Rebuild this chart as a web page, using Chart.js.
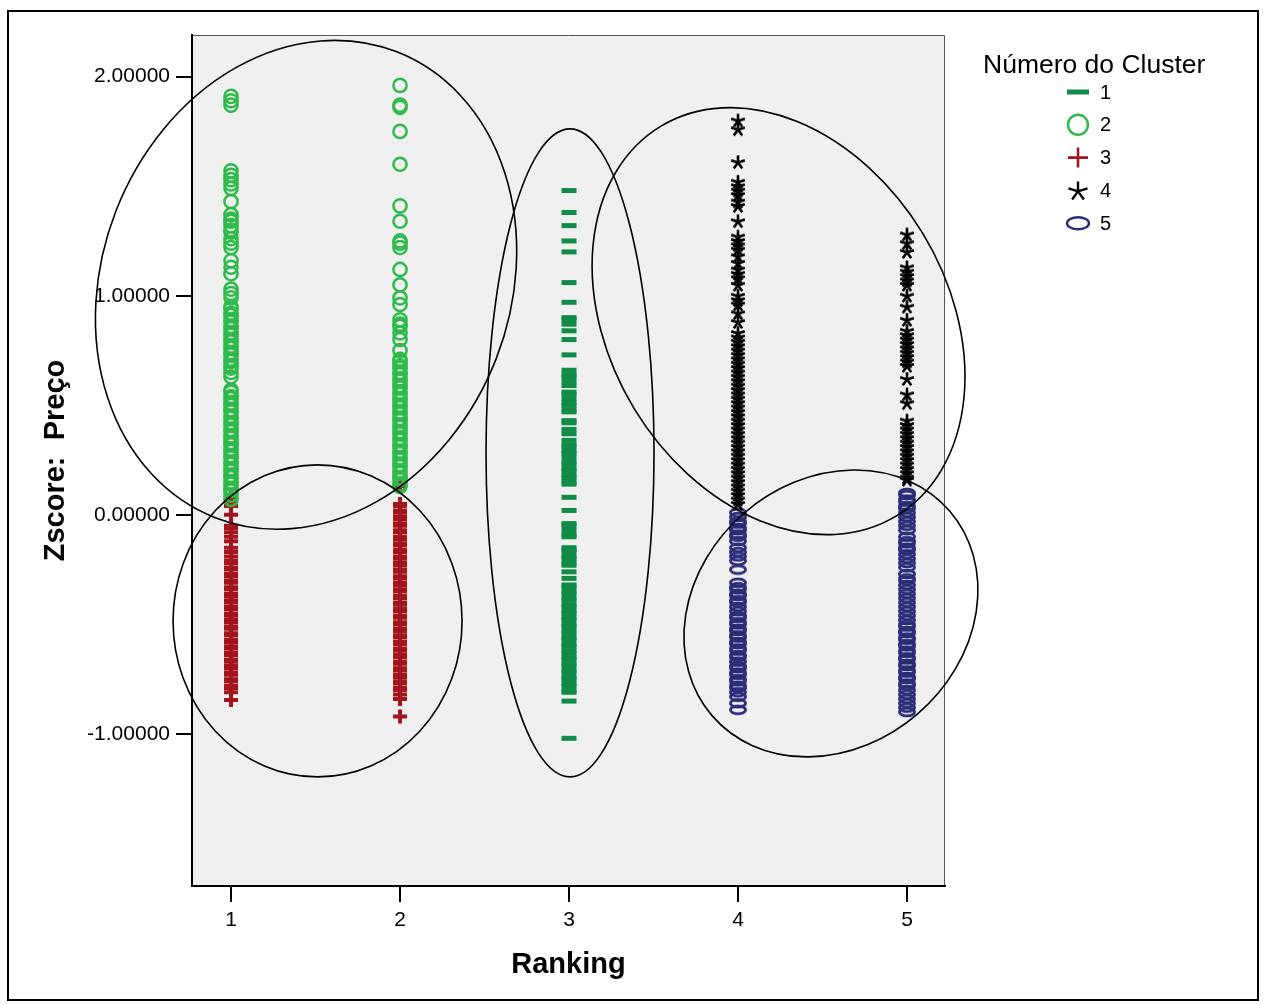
<!DOCTYPE html>
<html>
<head>
<meta charset="utf-8">
<script src="https://cdn.jsdelivr.net/npm/chart.js@4.4.0/dist/chart.umd.min.js"></script>
<style>
html, body { margin: 0; padding: 0; background: #fff; }
</style>
</head>
<body>
<canvas id="c" width="1264" height="1005"></canvas>
<script>
// values (Zscore Preço by Ranking, coloured by cluster)
var rankings = [1, 2, 3, 4, 5];
var yTicks = [-1, 0, 1, 2];
var clusterNames = ['1', '2', '3', '4', '5'];

var cluster1Rank3 = [1.48, 1.38, 1.32, 1.25, 1.20, 1.06, 0.97, 0.90, 0.89, 0.87, 0.84, 0.80,
	0.73, 0.66, 0.64, 0.63, 0.61, 0.59, 0.56, 0.55, 0.53, 0.51, 0.50, 0.48, 0.47, 0.43, 0.42,
	0.39, 0.37, 0.34, 0.32, 0.31, 0.29, 0.28, 0.26, 0.24, 0.23, 0.21, 0.20, 0.18, 0.17, 0.15,
	0.14, 0.08, 0.02, -0.04, -0.05, -0.07, -0.09, -0.10, -0.15, -0.16, -0.17, -0.19, -0.20,
	-0.22, -0.23, -0.26, -0.29, -0.32, -0.33, -0.35, -0.36, -0.38, -0.39, -0.41, -0.42, -0.44,
	-0.45, -0.47, -0.48, -0.50, -0.51, -0.53, -0.54, -0.56, -0.57, -0.59, -0.60, -0.62, -0.63,
	-0.65, -0.66, -0.68, -0.69, -0.71, -0.72, -0.74, -0.75, -0.77, -0.78, -0.80, -0.81, -0.85,
	-1.02];

var cluster2Rank1 = [1.91, 1.89, 1.87, 1.57, 1.55, 1.53, 1.51, 1.49, 1.43, 1.37, 1.35, 1.34,
	1.32, 1.30, 1.29, 1.26, 1.24, 1.22, 1.16, 1.13, 1.10, 1.03, 1.01, 0.99, 0.95, 0.94, 0.92,
	0.91, 0.89, 0.88, 0.86, 0.85, 0.83, 0.82, 0.80, 0.79, 0.77, 0.76, 0.74, 0.73, 0.71, 0.70,
	0.68, 0.67, 0.65, 0.63, 0.57, 0.56, 0.54, 0.53, 0.51, 0.50, 0.48, 0.47, 0.45, 0.44, 0.42,
	0.41, 0.39, 0.38, 0.36, 0.35, 0.33, 0.32, 0.30, 0.29, 0.27, 0.26, 0.24, 0.23, 0.21, 0.20,
	0.18, 0.17, 0.15, 0.14, 0.12, 0.11, 0.09, 0.07];

var cluster2Rank2 = [1.96, 1.87, 1.86, 1.75, 1.60, 1.41, 1.34, 1.25, 1.24, 1.22, 1.12, 1.05,
	0.99, 0.96, 0.89, 0.87, 0.86, 0.83, 0.80, 0.75, 0.71, 0.70, 0.68, 0.67, 0.65, 0.64, 0.62,
	0.61, 0.59, 0.58, 0.56, 0.55, 0.53, 0.52, 0.50, 0.49, 0.47, 0.46, 0.44, 0.43, 0.41, 0.40,
	0.38, 0.37, 0.35, 0.34, 0.32, 0.31, 0.29, 0.28, 0.26, 0.25, 0.23, 0.22, 0.20, 0.19, 0.17,
	0.16, 0.14, 0.13];

var cluster3Rank1 = [0.08, 0.06, 0.04, 0.00, -0.05, -0.06, -0.08, -0.10, -0.12, -0.15, -0.17,
	-0.19, -0.21, -0.22, -0.24, -0.25, -0.27, -0.28, -0.30, -0.31, -0.33, -0.34, -0.36, -0.37,
	-0.39, -0.40, -0.42, -0.43, -0.45, -0.46, -0.48, -0.49, -0.51, -0.52, -0.54, -0.55, -0.57,
	-0.58, -0.60, -0.61, -0.63, -0.64, -0.66, -0.67, -0.69, -0.70, -0.72, -0.73, -0.75, -0.76,
	-0.78, -0.79, -0.81, -0.845];

var cluster3Rank2 = [0.13, 0.05, 0.04, 0.02, 0.01, -0.01, -0.02, -0.04, -0.05, -0.07, -0.08,
	-0.10, -0.11, -0.13, -0.14, -0.16, -0.17, -0.19, -0.20, -0.22, -0.23, -0.25, -0.26, -0.28,
	-0.29, -0.31, -0.32, -0.34, -0.35, -0.37, -0.38, -0.40, -0.41, -0.43, -0.44, -0.46, -0.47,
	-0.49, -0.50, -0.52, -0.53, -0.55, -0.56, -0.58, -0.59, -0.61, -0.62, -0.64, -0.65, -0.67,
	-0.68, -0.70, -0.71, -0.73, -0.74, -0.76, -0.77, -0.79, -0.80, -0.82, -0.84, -0.92];

var cluster4Rank4 = [1.80, 1.76, 1.61, 1.52, 1.50, 1.48, 1.46, 1.43, 1.41, 1.34, 1.27, 1.25,
	1.23, 1.21, 1.18, 1.15, 1.12, 1.10, 1.08, 1.05, 1.00, 0.98, 0.96, 0.92, 0.88, 0.83, 0.81,
	0.79, 0.77, 0.75, 0.73, 0.71, 0.69, 0.67, 0.65, 0.63, 0.61, 0.59, 0.57, 0.55, 0.53, 0.51,
	0.49, 0.47, 0.45, 0.43, 0.41, 0.39, 0.37, 0.35, 0.33, 0.31, 0.29, 0.27, 0.25, 0.23, 0.21,
	0.19, 0.17, 0.15, 0.13, 0.11, 0.09, 0.07, 0.05];

var cluster4Rank5 = [1.28, 1.24, 1.20, 1.13, 1.11, 1.09, 1.07, 1.05, 1.00, 0.95, 0.89, 0.84,
	0.82, 0.80, 0.78, 0.76, 0.74, 0.72, 0.70, 0.68, 0.62, 0.55, 0.51, 0.43, 0.41, 0.39, 0.37,
	0.35, 0.33, 0.31, 0.29, 0.27, 0.25, 0.23, 0.21, 0.19, 0.17, 0.16];

var cluster5Rank4 = [0.01, -0.01, -0.03, -0.04, -0.06, -0.07, -0.09, -0.10, -0.12, -0.15,
	-0.17, -0.19, -0.21, -0.25, -0.31, -0.33, -0.34, -0.36, -0.37, -0.39, -0.40, -0.42, -0.44,
	-0.46, -0.47, -0.49, -0.50, -0.52, -0.53, -0.55, -0.56, -0.58, -0.59, -0.61, -0.62, -0.64,
	-0.65, -0.67, -0.69, -0.70, -0.72, -0.73, -0.75, -0.76, -0.78, -0.79, -0.81, -0.83, -0.86,
	-0.89];

var cluster5Rank5 = [0.10, 0.09, 0.07, 0.06, 0.04, 0.03, 0.01, -0.01, -0.03, -0.05, -0.07,
	-0.10, -0.12, -0.13, -0.15, -0.16, -0.18, -0.20, -0.22, -0.24, -0.27, -0.29, -0.30, -0.32,
	-0.34, -0.36, -0.38, -0.40, -0.42, -0.44, -0.46, -0.48, -0.50, -0.51, -0.53, -0.54, -0.56,
	-0.57, -0.59, -0.60, -0.62, -0.63, -0.65, -0.66, -0.68, -0.69, -0.71, -0.72, -0.74, -0.75,
	-0.77, -0.78, -0.80, -0.82, -0.84, -0.86, -0.88, -0.90];

// hand-drawn rings over the clusters: centre in data units, radii in px
var ringCentersX = [1.444, 1.512, 3.006, 4.24, 4.55];
var ringCentersY = [1.05, -0.484, 0.283, 0.884, -0.45];

var FONT = '"Liberation Sans", Arial, Helvetica, sans-serif';
var darkGreen = '#108c48';
var green = '#2fba4b';
var red = '#a3151d';
var navy = '#2c2d78';

function pts(rank, vals) {
	return vals.map(function (v) { return {x: rank, y: v}; });
}

function drawStar(ctx, x, y, r, lw, color) {
	ctx.save();
	ctx.strokeStyle = color;
	ctx.lineWidth = lw;
	ctx.beginPath();
	for (var i = 0; i < 5; i++) {
		var a = -Math.PI / 2 + i * 2 * Math.PI / 5;
		ctx.moveTo(x, y);
		ctx.lineTo(x + Math.cos(a) * r, y + Math.sin(a) * r);
	}
	ctx.stroke();
	ctx.restore();
}

function drawOval(ctx, x, y, rx, ry, lw, color) {
	ctx.save();
	ctx.strokeStyle = color;
	ctx.lineWidth = lw;
	ctx.beginPath();
	ctx.ellipse(x, y, rx, ry, 0, 0, Math.PI * 2);
	ctx.stroke();
	ctx.restore();
}

function makeIcon(w, h, fn) {
	var cv = document.createElement('canvas');
	cv.width = w;
	cv.height = h;
	fn(cv.getContext('2d'), w / 2, h / 2);
	return cv;
}

var starIcon = makeIcon(18, 18, function (c, x, y) { drawStar(c, x, y + 0.5, 7.2, 2.6, '#000'); });
var ovalIcon = makeIcon(20, 12, function (c, x, y) { drawOval(c, x, y, 7.6, 3.9, 2.8, navy); });

var bgPlugin = {
	id: 'bg',
	beforeDraw: function (chart) {
		var ctx = chart.ctx, a = chart.chartArea;
		ctx.save();
		ctx.fillStyle = '#fff';
		ctx.fillRect(0, 0, chart.width, chart.height);
		ctx.fillStyle = '#f0f0f0';
		ctx.fillRect(a.left, a.top, a.right - a.left, a.bottom - a.top);
		ctx.strokeStyle = '#555';
		ctx.lineWidth = 1;
		ctx.beginPath();
		ctx.moveTo(a.left, a.top + 0.5);
		ctx.lineTo(a.right - 0.5, a.top + 0.5);
		ctx.lineTo(a.right - 0.5, a.bottom);
		ctx.stroke();
		ctx.restore();
	}
};

var ringsPlugin = {
	id: 'rings',
	afterDraw: function (chart) {
		var ctx = chart.ctx;
		var sx = chart.scales.x, sy = chart.scales.y;
		var radX = [204, 144.5, 84, 168.8, 156.8];
		var radY = [250, 156, 324, 227.7, 132.7];
		var rot = [21.3, 0, 0, -31.2, -40.8];
		ctx.save();
		ctx.strokeStyle = '#000';
		ctx.lineWidth = 1.6;
		for (var i = 0; i < ringCentersX.length; i++) {
			ctx.beginPath();
			ctx.ellipse(sx.getPixelForValue(ringCentersX[i]), sy.getPixelForValue(ringCentersY[i]),
				radX[i], radY[i], rot[i] * Math.PI / 180, 0, Math.PI * 2);
			ctx.stroke();
		}
		// outer frame
		ctx.lineWidth = 2;
		ctx.strokeRect(8, 11, 1250, 989);
		ctx.restore();
	}
};

var legendPlugin = {
	id: 'clusterLegend',
	afterDraw: function (chart) {
		var ctx = chart.ctx, a = chart.chartArea;
		var sx = a.right + 133, lx = a.right + 155;
		ctx.save();
		ctx.fillStyle = '#000';
		ctx.textBaseline = 'middle';
		ctx.font = '26.5px ' + FONT;
		ctx.fillText('Número do Cluster', a.right + 38, 66);
		ctx.font = '20px ' + FONT;
		clusterNames.forEach(function (name, i) {
			var y = 92 + i * 32.8;
			if (i === 0) {
				ctx.strokeStyle = darkGreen;
				ctx.lineWidth = 5;
				ctx.beginPath();
				ctx.moveTo(sx - 11, y);
				ctx.lineTo(sx + 11, y);
				ctx.stroke();
			} else if (i === 1) {
				drawOval(ctx, sx, y, 10, 10, 2.4, green);
			} else if (i === 2) {
				ctx.strokeStyle = red;
				ctx.lineWidth = 2.6;
				ctx.beginPath();
				ctx.moveTo(sx - 10, y);
				ctx.lineTo(sx + 10, y);
				ctx.moveTo(sx, y - 10);
				ctx.lineTo(sx, y + 10);
				ctx.stroke();
			} else if (i === 3) {
				drawStar(ctx, sx, y + 1, 10, 2.4, '#000');
			} else {
				drawOval(ctx, sx, y, 11, 6, 2.4, navy);
			}
			ctx.fillStyle = '#000';
			ctx.fillText(name, lx, y + 1);
		});
		ctx.restore();
	}
};

new Chart(document.getElementById('c'), {
	type: 'scatter',
	data: {
		datasets: [
			{label: '1', data: pts(3, cluster1Rank3), pointStyle: 'line', pointRadius: 7.5,
				borderWidth: 5, borderColor: darkGreen, backgroundColor: darkGreen},
			{label: '2', data: pts(1, cluster2Rank1).concat(pts(2, cluster2Rank2)), pointStyle: 'circle',
				pointRadius: 6.6, borderWidth: 2.5, borderColor: green, backgroundColor: 'rgba(0,0,0,0)'},
			{label: '3', data: pts(1, cluster3Rank1).concat(pts(2, cluster3Rank2)), pointStyle: 'cross',
				pointRadius: 7, borderWidth: 4, borderColor: red, backgroundColor: red},
			{label: '4', data: pts(4, cluster4Rank4).concat(pts(5, cluster4Rank5)), pointStyle: starIcon,
				borderColor: '#000'},
			{label: '5', data: pts(4, cluster5Rank4).concat(pts(5, cluster5Rank5)), pointStyle: ovalIcon,
				borderColor: navy}
		]
	},
	options: {
		responsive: false,
		animation: false,
		events: [],
		layout: {padding: {top: 35, right: 319, bottom: 0, left: 0}},
		plugins: {legend: {display: false}, tooltip: {enabled: false}},
		scales: {
			x: {
				type: 'linear',
				min: 0.769,
				max: 5.225,
				afterBuildTicks: function (s) { s.ticks = rankings.map(function (v) { return {value: v}; }); },
				afterFit: function (s) { s.height = 119; },
				grid: {drawOnChartArea: false, tickLength: 16, color: '#000', lineWidth: 2},
				border: {color: '#000', width: 2},
				ticks: {color: '#000', font: {family: FONT, size: 21}, padding: 6, maxRotation: 0,
					callback: function (v) { return String(v); }},
				title: {display: true, text: 'Ranking', color: '#000',
					font: {family: FONT, size: 29, weight: 'bold'}, padding: {top: 0, bottom: 23}}
			},
			y: {
				min: -1.694,
				max: 2.19,
				afterBuildTicks: function (s) { s.ticks = yTicks.map(function (v) { return {value: v}; }); },
				afterFit: function (s) { s.width = 192; },
				grid: {drawOnChartArea: false, tickLength: 16, color: '#000', lineWidth: 2},
				border: {color: '#000', width: 2},
				ticks: {color: '#000', font: {family: FONT, size: 21}, padding: 6,
					callback: function (v) { return v.toFixed(5); }},
				title: {display: true, text: 'Zscore:  Preço', color: '#000',
					font: {family: FONT, size: 29, weight: 'bold'}, padding: {top: 39, bottom: 0}}
			}
		}
	},
	plugins: [bgPlugin, ringsPlugin, legendPlugin]
});
</script>
</body>
</html>
